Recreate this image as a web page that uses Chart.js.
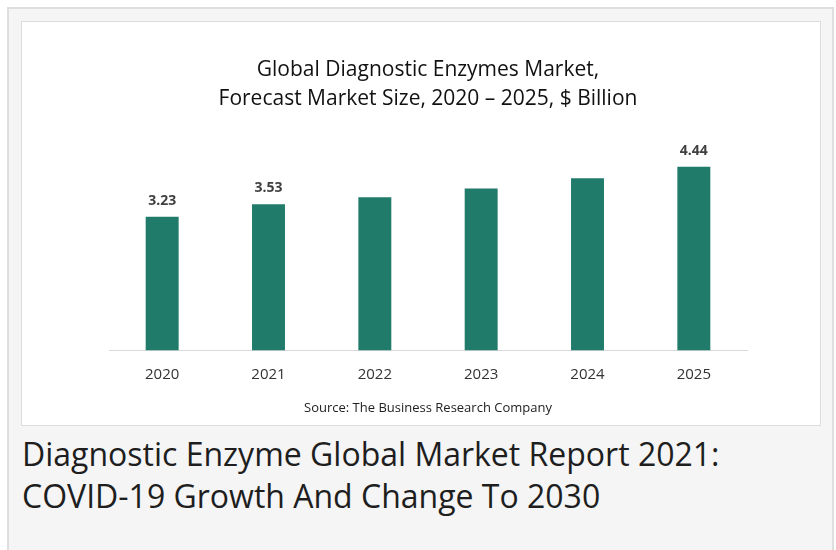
<!DOCTYPE html>
<html>
<head>
<meta charset="utf-8">
<script src="https://cdn.jsdelivr.net/npm/chart.js@4.4.0/dist/chart.umd.min.js"></script>
<style>
  body { margin: 0; background: #fff; width: 836px; height: 550px; overflow: hidden; position: relative; }
  #outer { position: absolute; left: 7px; top: 7px; width: 823px; height: 560px; background: #f5f5f5; border: 2px solid #dedede; }
  #box { position: absolute; left: 12px; top: 12px; width: 798px; height: 403px; background: #fff; border: 1px solid #dcdcdc; }
  #caption { position: absolute; left: 13px; top: 424px; font-family: "Open Sans", sans-serif; font-size: 32px; line-height: 42px; color: #1e1e1e; }
</style>
</head>
<body>
<div id="outer">
  <div id="box"><canvas id="marketChart" width="798" height="403"></canvas></div>
  <div id="caption">Diagnostic Enzyme Global Market Report 2021:<br>COVID-19 Growth And Change To 2030</div>
</div>
<script>
// chart data
const years = ['2020', '2021', '2022', '2023', '2024', '2025'];
const marketSize = [3.23, 3.53, 3.70, 3.91, 4.16, 4.44];
const labelledYears = ['2020', '2021', '2025'];

const chartFont = '"Open Sans", sans-serif';

// value labels above selected bars
const barLabels = {
    id: 'barLabels',
    afterDatasetsDraw(chart) {
        const ctx = chart.ctx;
        const meta = chart.getDatasetMeta(0);
        ctx.save();
        ctx.font = 'bold 14px ' + chartFont;
        ctx.fillStyle = '#404040';
        ctx.textAlign = 'center';
        ctx.textBaseline = 'middle';
        meta.data.forEach((bar, i) => {
            if (!labelledYears.includes(years[i])) return;
            ctx.fillText(marketSize[i].toFixed(2), bar.x, bar.y - 16);
        });
        ctx.restore();
    }
};

const ctx = document.getElementById('marketChart').getContext('2d');
new Chart(ctx, {
    type: 'bar',
    data: {
        labels: years,
        datasets: [{
            data: marketSize,
            backgroundColor: '#217b6b',
            categoryPercentage: 1,
            barPercentage: 0.31
        }]
    },
    options: {
        responsive: false,
        animation: false,
        layout: { padding: { left: 87, right: 73, top: 0, bottom: 0 } },
        plugins: {
            legend: { display: false },
            tooltip: { enabled: false },
            title: {
                display: true,
                text: ['Global Diagnostic Enzymes Market,', 'Forecast Market Size, 2020 \u2013 2025, $ Billion'],
                color: '#111',
                font: { family: chartFont, size: 21, weight: 'normal', lineHeight: 1.38 },
                padding: { top: 33.5, bottom: 30 }
            },
            subtitle: {
                display: true,
                position: 'bottom',
                text: 'Source: The Business Research Company',
                color: '#222',
                font: { family: chartFont, size: 13, weight: 'normal', lineHeight: 1.2 },
                padding: { top: 2, bottom: 9 }
            }
        },
        scales: {
            x: {
                grid: { display: false, drawTicks: false },
                border: { color: '#d9d9d9', width: 1 },
                ticks: { color: '#333', padding: 15, font: { family: chartFont, size: 15 } }
            },
            y: {
                display: false,
                min: 0,
                max: 5
            }
        }
    },
    plugins: [barLabels]
});
</script>
</body>
</html>
